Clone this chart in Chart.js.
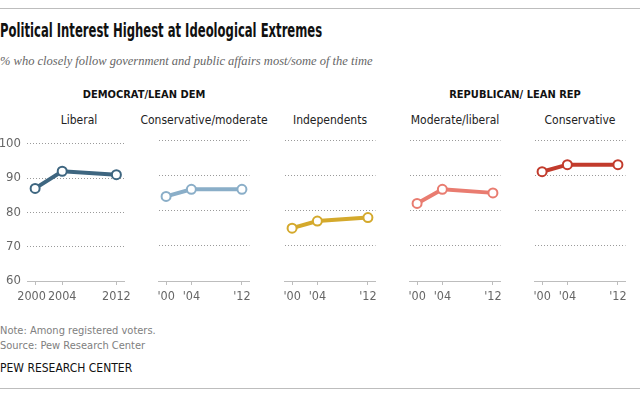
<!DOCTYPE html>
<html>
<head>
<meta charset="utf-8">
<script src="https://cdn.jsdelivr.net/npm/chart.js@4.4.1/dist/chart.umd.min.js"></script>
<style>
  body { margin: 0; background: #fff; }
  #wrap { position: relative; width: 640px; height: 396px; overflow: hidden; font-family: "Liberation Sans Narrow", "DejaVu Sans Condensed", "Roboto", sans-serif; }
  .rule { position: absolute; left: 0; width: 640px; height: 1px; background: #bdbdbd; }
  .abs { position: absolute; white-space: nowrap; }
  #title { left: 0; top: 19px; font-size: 19px; font-weight: bold; color: #111; transform: scaleX(0.68); transform-origin: left; }
  #subtitle { left: 0; top: 54px; font-family: "Liberation Serif", "DejaVu Serif", serif; font-style: italic; font-size: 12.5px; color: #666; }
  .group { top: 88px; font-size: 11px; font-weight: bold; color: #111; line-height: 14px; text-align: center; }
  .ptitle { top: 112px; font-size: 12px; color: #222; line-height: 16px; text-align: center; }
  .foot { left: 0; font-size: 11px; color: #808080; line-height: 14px; }
  #pew { left: 0; top: 361px; font-size: 12px; color: #111; line-height: 14px; }
  canvas { position: absolute; }
</style>
</head>
<body>
<div id="wrap">
  <div class="rule" style="top:8px"></div>
  <div id="title" class="abs">Political Interest Highest at Ideological Extremes</div>
  <div id="subtitle" class="abs">% who closely follow government and public affairs most/some of the time</div>
  <div class="abs group" style="left:64px;width:160px">DEMOCRAT/LEAN DEM</div>
  <div class="abs group" style="left:435px;width:160px">REPUBLICAN/ LEAN REP</div>
  <div class="abs foot" style="top:324px">Note: Among registered voters.</div>
  <div class="abs foot" style="top:339px">Source: Pew Research Center</div>
  <div id="pew" class="abs">PEW RESEARCH CENTER</div>
  <div class="rule" style="top:388px"></div>
</div>
<script>
// 数据
const years = [2000, 2004, 2012];
const fullYearLabels = ['2000', '2004', '2012'];
const shortYearLabels = ["'00", "'04", "'12"];
const yTicks = [60, 70, 80, 90, 100];

const panelNames = ['Liberal', 'Conservative/moderate', 'Independents', 'Moderate/liberal', 'Conservative'];
const liberal = [87, 92, 91];
const consModerate = [84, 86, 86];
const independents = [75, 77, 78];
const modLiberal = [82, 86, 85];
const conservative = [91, 93, 93];

const panelSeries = [liberal, consModerate, independents, modLiberal, conservative];
const panelColors = ['#3e6680', '#8aaec8', '#d4a92c', '#e97c70', '#c23b2c'];
const panelLefts = [27, 152, 278, 403, 528];
const panelWidth = 104;
const tickFont = { size: 12.5, family: '"Liberation Sans Narrow", "DejaVu Sans Condensed", sans-serif' };

const wrap = document.getElementById('wrap');

panelSeries.forEach(function(values, i) {
    const first = i === 0;
    const yAxisWidth = first ? 27 : 0;
    const left = panelLefts[i] - yAxisWidth;

    // 小标题
    const t = document.createElement('div');
    t.className = 'abs ptitle';
    t.style.left = (panelLefts[i] - 20) + 'px';
    t.style.width = (panelWidth + 40) + 'px';
    t.textContent = panelNames[i];
    wrap.appendChild(t);

    const canvas = document.createElement('canvas');
    canvas.style.left = left + 'px';
    canvas.style.top = '130px';
    canvas.style.width = (panelWidth + yAxisWidth) + 'px';
    canvas.style.height = '180px';
    canvas.width = panelWidth + yAxisWidth;
    canvas.height = 180;
    wrap.appendChild(canvas);

    const labels = first ? fullYearLabels : shortYearLabels;

    new Chart(canvas.getContext('2d'), {
        type: 'line',
        data: {
            datasets: [{
                data: years.map(function(yr, k) { return {x: yr, y: values[k]}; }),
                borderColor: panelColors[i],
                borderWidth: 4,
                pointRadius: 4.5,
                pointBorderWidth: 2,
                pointBackgroundColor: '#fff',
                pointBorderColor: panelColors[i],
                tension: 0,
                clip: false
            }]
        },
        options: {
            responsive: false,
            animation: false,
            devicePixelRatio: 1,
            layout: { padding: { top: 10, left: 0, right: 0, bottom: 0 } },
            plugins: { legend: { display: false }, tooltip: { enabled: false } },
            scales: {
                x: {
                    type: 'linear',
                    min: 1998.8,
                    max: 2013.2,
                    afterBuildTicks: function(scale) {
                        scale.ticks = years.map(function(v) { return {value: v}; });
                    },
                    afterFit: function(scale) {
                        scale.height = 29;
                        scale.paddingLeft = 0;
                        scale.paddingRight = 0;
                    },
                    ticks: {
                        autoSkip: false,
                        maxRotation: 0,
                        padding: 4,
                        color: '#666',
                        font: tickFont,
                        callback: function(value) {
                            const idx = years.indexOf(value);
                            if (idx < 0) return '';
                            // 第一个完整年份稍向左挪，避免和 2004 挤在一起
                            return (first && idx === 0) ? labels[idx] + '\u00a0\u00a0' : labels[idx];
                        }
                    },
                    grid: { drawOnChartArea: false, drawTicks: true, tickLength: 4, color: '#bdbdbd' },
                    border: { display: true, color: '#bdbdbd', width: 1 }
                },
                y: {
                    min: 60,
                    max: 100,
                    afterBuildTicks: function(scale) {
                        scale.ticks = yTicks.map(function(v) { return {value: v}; });
                    },
                    afterFit: function(scale) {
                        scale.width = yAxisWidth;
                    },
                    ticks: {
                        display: first,
                        padding: 6,
                        color: '#666',
                        font: { size: 13, family: tickFont.family }
                    },
                    grid: { drawTicks: false, color: '#9a9a9a', lineWidth: 1 },
                    border: { display: false, dash: [1, 2] }
                }
            }
        }
    });
});
</script>
</body>
</html>
